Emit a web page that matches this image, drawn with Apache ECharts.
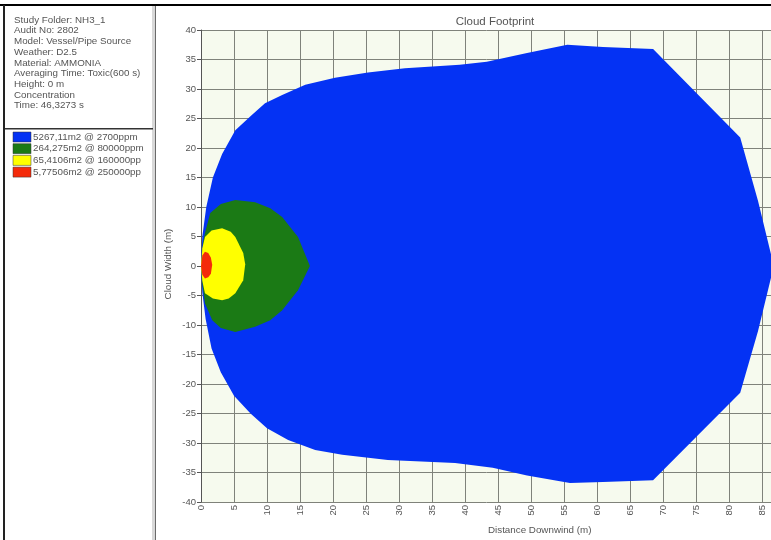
<!DOCTYPE html>
<html>
<head>
<meta charset="utf-8">
<title>Cloud Footprint</title>
<script src="https://cdn.jsdelivr.net/npm/echarts@6/dist/echarts.min.js"></script>
<style>
  html, body { margin: 0; padding: 0; background: #ffffff; }
  #chart { width: 771px; height: 540px; }
</style>
</head>
<body>
<div id="chart"></div>
<script>
// Run description shown in the side panel
const infoLines = [
  'Study Folder: NH3_1',
  'Audit No: 2802',
  'Model: Vessel/Pipe Source',
  'Weather: D2.5',
  'Material: AMMONIA',
  'Averaging Time: Toxic(600 s)',
  'Height: 0 m',
  'Concentration',
  'Time: 46,3273 s'
];

// Footprint contours (area @ concentration)
const contourLabels = [
  '5267,11m2 @ 2700ppm',
  '264,275m2 @ 80000ppm',
  '65,4106m2 @ 160000ppm',
  '5,77506m2 @ 250000ppm'
];
const contourColors = ['#0432f4', '#1b7a15', '#ffff00', '#f42a0a'];

// Outline of each contour: downwind distance (m) and cloud width (m)
const blueX = [0, 0.2, 0.8, 1.8, 3.2, 5.2, 7.7, 9.7, 12.3, 15.8, 20.3, 25.3, 30.9, 39.2, 43.3, 49.4, 55.5, 60.9, 68.5,
  81.7, 84.4, 86.8, 84.4, 81.7, 68.5, 60.9, 55.9, 49.4, 44.2, 38.5, 28.3, 21.4, 17.3, 13.2, 10.0, 7.5, 5.0, 3.0, 1.6, 0.7, 0.2];
const blueY = [0, 5, 10, 15, 19, 23, 25.6, 27.6, 29.0, 30.7, 31.9, 32.8, 33.5, 34.1, 34.6, 36.1, 37.5, 37.1, 36.8,
  21.8, 11, 0, -11, -21.5, -36.3, -36.6, -36.8, -35.5, -34.2, -33.4, -32.9, -32.0, -31.2, -29.5, -27.5, -25, -22, -18, -14, -9, -4.5];

const greenX = [0, 0.3, 0.6, 1.4, 3.0, 5.2, 8.2, 10.5, 12.3, 14.7, 16.5, 14.7, 12.3, 10.5, 8.2, 5.2, 3.0, 1.7, 0.6, 0.2];
const greenY = [0, 4, 5.6, 9, 10.5, 11.2, 10.8, 9.8, 8.3, 4.9, 0, -4.1, -7.5, -9.2, -10.3, -11.2, -10.5, -9.2, -6.3, -3];

const yellowX = [0, 0.2, 0.6, 1.6, 3.2, 4.5, 5.2, 6.4, 6.7, 6.4, 5.2, 4.2, 3.2, 1.8, 0.6, 0.2];
const yellowY = [0, 3, 4.9, 6.0, 6.4, 5.8, 4.9, 2.2, 0.3, -2.4, -4.6, -5.5, -5.8, -5.5, -4.6, -2.5];

const redX = [0, 0.2, 0.6, 1.1, 1.5, 1.7, 1.5, 1.1, 0.6, 0.2];
const redY = [0, 1.8, 2.4, 2.2, 1.4, 0.2, -1.3, -1.9, -2.1, -1.5];

// Axis ranges and tick step
const xRange = [0, 90];
const yRange = [-40, 40];
const tickStep = 5;

const outlines = [
  [blueX, blueY],
  [greenX, greenY],
  [yellowX, yellowY],
  [redX, redY]
];

const chart = echarts.init(document.getElementById('chart'), null, { renderer: 'canvas' });

function contourSeries(idx) {
  const xs = outlines[idx][0];
  const ys = outlines[idx][1];
  return {
    type: 'custom',
    name: contourLabels[idx],
    coordinateSystem: 'cartesian2d',
    data: xs.map((x, i) => [x, ys[i]]),
    encode: { x: 0, y: 1 },
    z: 2 + idx,
    silent: true,
    renderItem: function (params, api) {
      if (params.dataIndex !== 0) return null;
      const pts = xs.map((x, i) => api.coord([x, ys[i]]));
      return {
        type: 'polygon',
        shape: { points: pts },
        style: { fill: contourColors[idx], stroke: null }
      };
    }
  };
}

const panelFont = 'Liberation Sans, Arial, sans-serif';
const axisText = { color: '#555', fontSize: 9.5, fontFamily: panelFont };

// Side panel: frame, info lines and contour key
const graphics = [
  { type: 'rect', shape: { x: 0, y: 4, width: 771, height: 2 }, style: { fill: '#000' }, z: 10 },
  { type: 'rect', shape: { x: 3, y: 5, width: 2, height: 535 }, style: { fill: '#222' }, z: 10 },
  { type: 'rect', shape: { x: 152, y: 6, width: 3, height: 534 }, style: { fill: '#d8d8d8' }, z: 10 },
  { type: 'rect', shape: { x: 155, y: 6, width: 1, height: 534 }, style: { fill: '#6a6a6a' }, z: 10 },
  { type: 'rect', shape: { x: 5, y: 128, width: 148, height: 1.5 }, style: { fill: '#333' }, z: 10 }
];
infoLines.forEach((t, i) => {
  graphics.push({
    type: 'text', left: 14, top: 15 + i * 10.7, z: 10,
    style: { text: t, fill: '#555', font: '9.8px ' + panelFont }
  });
});
contourLabels.forEach((t, i) => {
  graphics.push({
    type: 'rect', shape: { x: 13, y: 132 + i * 11.7, width: 18, height: 10 },
    style: { fill: contourColors[i], stroke: '#333', lineWidth: 0.5 }, z: 10
  });
  graphics.push({
    type: 'text', left: 33, top: 132 + i * 11.7, z: 10,
    style: {
      text: t, fill: '#555', font: '9.8px ' + panelFont,
      width: 116, overflow: 'truncate', ellipsis: ''
    }
  });
});
graphics.push({
  type: 'text', left: 488, top: 525, z: 10,
  style: { text: 'Distance Downwind (m)', fill: '#555', font: '9.8px ' + panelFont, textAlign: 'center' }
});
graphics.push({
  type: 'text', x: 168, y: 264, rotation: Math.PI / 2, z: 10,
  style: { text: 'Cloud Width (m)', fill: '#555', font: '9.8px ' + panelFont, textAlign: 'center', textVerticalAlign: 'middle' }
});

const option = {
  animation: false,
  backgroundColor: '#ffffff',
  title: {
    text: 'Cloud Footprint',
    left: 490,
    top: 11,
    textAlign: 'center',
    textStyle: { color: '#555', fontSize: 11.5, fontWeight: 'normal', fontFamily: panelFont }
  },
  grid: {
    left: 201, top: 30, bottom: 38, right: -24,
    outerBoundsMode: 'none',
    containLabel: false,
    show: true, backgroundColor: '#f6faee', borderWidth: 0
  },
  xAxis: {
    type: 'value',
    min: xRange[0], max: xRange[1], interval: tickStep,
    axisLine: { show: true, lineStyle: { color: '#555', width: 1 } },
    axisTick: { show: true, length: 3, lineStyle: { color: '#555' } },
    axisLabel: Object.assign({ rotate: 90, margin: 3 }, axisText),
    splitLine: { show: true, lineStyle: { color: '#7f827a', width: 1 } }
  },
  yAxis: {
    type: 'value',
    min: yRange[0], max: yRange[1], interval: tickStep,
    axisLine: { show: true, lineStyle: { color: '#555', width: 1 } },
    axisTick: { show: true, length: 4, lineStyle: { color: '#555' } },
    axisLabel: Object.assign({ margin: 5 }, axisText),
    splitLine: { show: true, lineStyle: { color: '#7f827a', width: 1 } }
  },
  series: [0, 1, 2, 3].map(contourSeries),
  graphic: graphics
};

chart.setOption(option);
</script>
</body>
</html>
